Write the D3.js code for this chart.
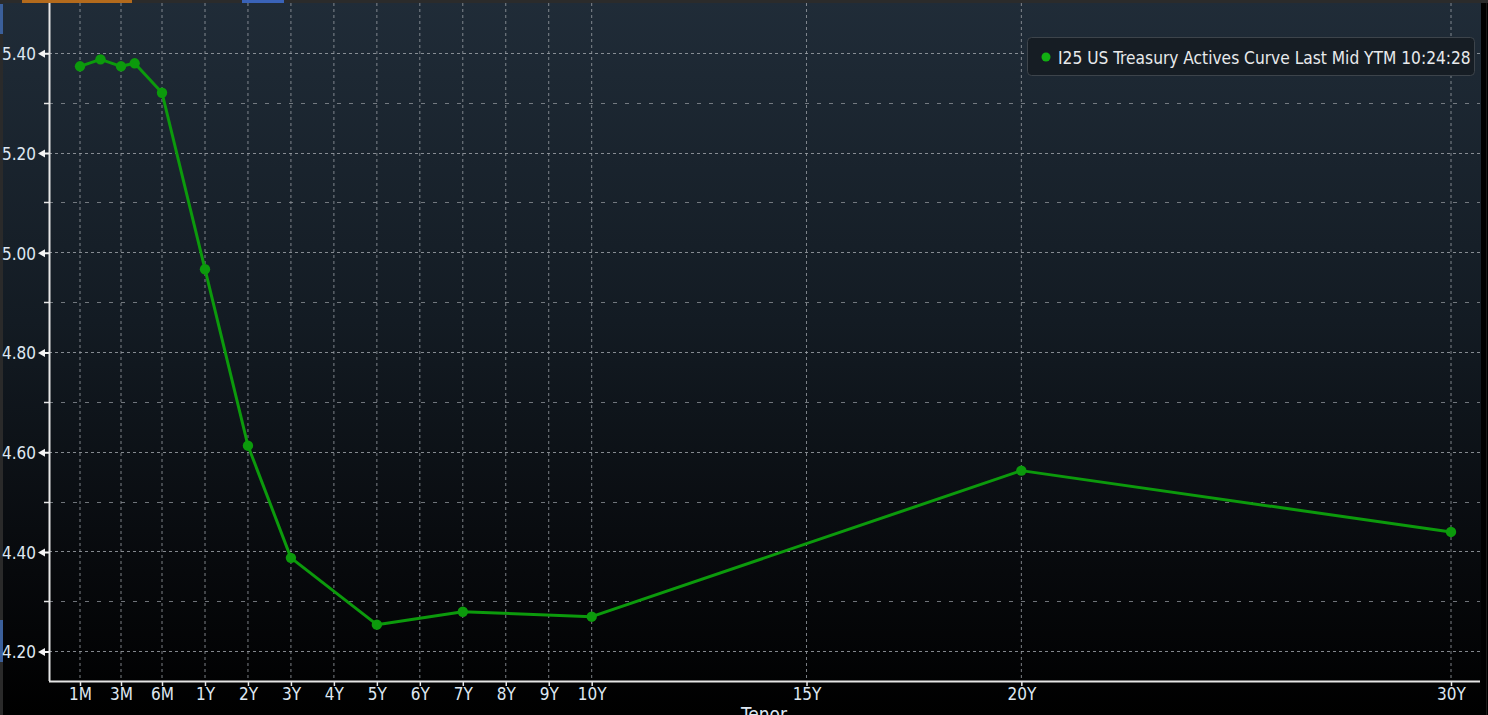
<!DOCTYPE html>
<html>
<head>
<meta charset="utf-8">
<script src="https://cdn.jsdelivr.net/npm/d3@7"></script>
<style>
html,body{margin:0;padding:0;background:#000;overflow:hidden;}
svg{display:block;}
</style>
</head>
<body>
<svg id="chart" width="1488" height="715"></svg>
<script>
// ---- data ----
const tenorLabels = ["1M","2M","3M","4M","6M","1Y","2Y","3Y","5Y","7Y","10Y","20Y","30Y"];
const tenorMonths = [1,2,3,4,6,12,24,36,60,84,120,240,360];
const yields = [5.373,5.387,5.373,5.379,5.320,4.966,4.612,4.387,4.253,4.279,4.269,4.562,4.439];

const xTickLabels = ["1M","3M","6M","1Y","2Y","3Y","4Y","5Y","6Y","7Y","8Y","9Y","10Y","15Y","20Y","30Y"];
const xTickMonths = [1,3,6,12,24,36,48,60,72,84,96,108,120,180,240,360];
const yMajorTicks = [4.2,4.4,4.6,4.8,5.0,5.2,5.4];
const yMinorTicks = [4.3,4.5,4.7,4.9,5.1,5.3];
const legendLabel = "I25 US Treasury Actives Curve Last Mid YTM 10:24:28";
const axisTitle = "Tenor";

// ---- layout ----
const W = 1488, H = 715;
const plotL = 49, plotR = 1480, plotT = 3, plotB = 681;
const svg = d3.select("#chart");
const FONT = "'Liberation Sans Narrow','Arial Narrow','DejaVu Sans Condensed',sans-serif";

const defs = svg.append("defs");
const grad = defs.append("linearGradient").attr("id","bg").attr("x1",0).attr("y1",0).attr("x2",0).attr("y2",1);
grad.append("stop").attr("offset","0%").attr("stop-color","#202c38");
grad.append("stop").attr("offset","45%").attr("stop-color","#131b23");
grad.append("stop").attr("offset","80%").attr("stop-color","#07090c");
grad.append("stop").attr("offset","100%").attr("stop-color","#000000");

svg.append("rect").attr("width",W).attr("height",H).attr("fill","url(#bg)");
// right frame
svg.append("rect").attr("x",plotR+1).attr("y",0).attr("width",W-plotR-1).attr("height",H).attr("fill","#000");
svg.append("rect").attr("x",1486).attr("y",0).attr("width",1).attr("height",H).attr("fill","#1a1a1a");
// top strip
svg.append("rect").attr("x",0).attr("y",0).attr("width",W).attr("height",3).attr("fill","#2b2b2b");
svg.append("rect").attr("x",22).attr("y",0).attr("width",110).attr("height",3).attr("fill","#b36a1c");
svg.append("rect").attr("x",242).attr("y",0).attr("width",42).attr("height",3).attr("fill","#3a63b8");
// left strip
svg.append("rect").attr("x",0).attr("y",3).attr("width",3).attr("height",H).attr("fill","#2a2a2a");
svg.append("rect").attr("x",0).attr("y",4).attr("width",3).attr("height",30).attr("fill","#3b5f9a");
svg.append("rect").attr("x",0).attr("y",620).attr("width",3).attr("height",42).attr("fill","#3b5f9a");

// ---- scales ----
const x = d3.scaleLinear().domain([1,3,6,12,360]).range([80,121,162,205,1451]);
const y = d3.scaleLinear().domain([4.14,5.50]).range([plotB,plotT]);

// ---- grid ----
const grid = svg.append("g");
grid.selectAll("line.vg").data(xTickMonths).join("line")
  .attr("x1",d=>x(d)).attr("x2",d=>x(d)).attr("y1",plotT).attr("y2",plotB)
  .attr("stroke","#9a9fa5").attr("stroke-width",1).attr("stroke-dasharray","3,3").attr("opacity",0.8);
grid.selectAll("line.hg").data(yMajorTicks).join("line")
  .attr("x1",plotL).attr("x2",plotR).attr("y1",d=>Math.round(y(d))+0.5).attr("y2",d=>Math.round(y(d))+0.5)
  .attr("stroke","#9a9fa5").attr("stroke-width",1).attr("stroke-dasharray","3,3").attr("opacity",0.85);
grid.selectAll("line.hm").data(yMinorTicks).join("line")
  .attr("x1",plotL).attr("x2",plotR).attr("y1",d=>Math.round(y(d))+0.5).attr("y2",d=>Math.round(y(d))+0.5)
  .attr("stroke","#8a8f95").attr("stroke-width",1).attr("stroke-dasharray","4,8").attr("opacity",0.8);

// ---- axes ----
const labelMap = new Map(xTickMonths.map((m,i)=>[m,xTickLabels[i]]));
const xAxis = d3.axisBottom(x).tickValues(xTickMonths).tickFormat(d=>labelMap.get(d)).tickSize(5).tickSizeOuter(0);
const gx = svg.append("g").attr("transform",`translate(0,${plotB})`).call(xAxis);
gx.select(".domain").attr("d",`M${plotL},0.5H${plotR}`).attr("stroke","#e6e6e6").attr("stroke-width",2);
gx.selectAll(".tick line").attr("stroke","#e6e6e6").attr("stroke-width",1.5);
gx.selectAll(".tick text").attr("fill","#dfe8f2").attr("font-family",FONT).attr("font-size",17).attr("dy",null).attr("y",19);

const yAxis = d3.axisLeft(y).tickValues(yMajorTicks).tickFormat(d3.format(".2f")).tickSize(0).tickPadding(13);
const gy = svg.append("g").attr("transform",`translate(${plotL},0)`).call(yAxis);
gy.select(".domain").attr("d",`M0.5,${plotT}V${plotB}`).attr("stroke","#e6e6e6").attr("stroke-width",2);
gy.selectAll(".tick text").attr("fill","#dfe8f2").attr("font-family",FONT).attr("font-size",17).attr("dy","0.4em");
// arrow markers for major ticks
gy.selectAll(".tick").append("path")
  .attr("d","M-11,0.5L-4,-3.5L-4,-0.5L0,-0.5L0,1.5L-4,1.5L-4,4.5Z").attr("fill","#f4f4f4");
// minor ticks
svg.append("g").selectAll("line").data(yMinorTicks).join("line")
  .attr("x1",plotL-5).attr("x2",plotL).attr("y1",d=>Math.round(y(d))+0.5).attr("y2",d=>Math.round(y(d))+0.5)
  .attr("stroke","#e6e6e6").attr("stroke-width",1.5);

svg.append("text").attr("x",764).attr("y",721).attr("text-anchor","middle")
  .attr("fill","#dfe8f2").attr("font-family",FONT).attr("font-size",19).text(axisTitle);

// ---- series ----
const pts = tenorMonths.map((m,i)=>({m, v:yields[i], label:tenorLabels[i]}));
const green = "#0c9a0c";
svg.append("path").datum(pts)
  .attr("d", d3.line().x(d=>x(d.m)).y(d=>y(d.v)))
  .attr("fill","none").attr("stroke",green).attr("stroke-width",3).attr("stroke-linejoin","round");
svg.append("g").selectAll("circle").data(pts).join("circle")
  .attr("cx",d=>x(d.m)).attr("cy",d=>y(d.v)).attr("r",5.2).attr("fill",green);

// ---- legend ----
const lg = svg.append("g");
lg.append("rect").attr("x",1027.5).attr("y",37.5).attr("width",447).attr("height",38).attr("rx",4)
  .attr("fill","#161d24").attr("stroke","#3d444b").attr("stroke-width",1);
lg.append("circle").attr("cx",1046).attr("cy",57).attr("r",4.5).attr("fill","#12b012");
lg.append("text").attr("x",1058).attr("y",63.5).attr("fill","#e8eaec").attr("font-family",FONT)
  .attr("font-size",17.2).text(legendLabel);
</script>
</body>
</html>
